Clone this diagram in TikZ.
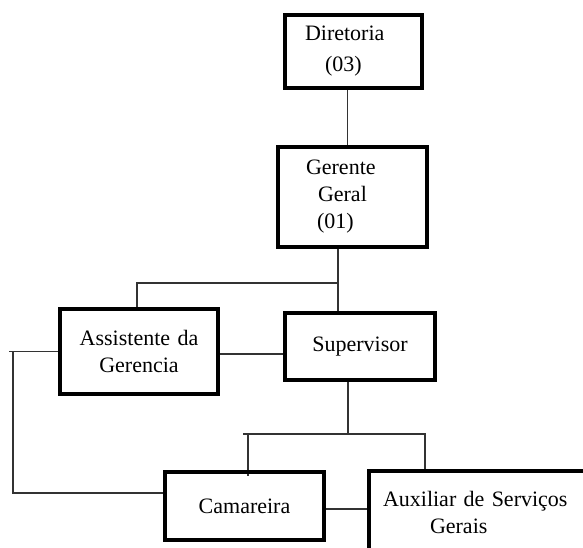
\documentclass[tikz,border=0pt]{standalone}
\usepackage{fontspec}
\setmainfont{Liberation Serif}
\usetikzlibrary{backgrounds}

\begin{document}
\begin{tikzpicture}[x=1pt, y=-1pt,
  every node/.style = {draw, rectangle, line width=4pt, inner xsep=0pt, inner ysep=0pt, align=center, font=\fontsize{22}{27}\selectfont},
  linha/.style = {line width=1.5pt, black!80}]

  \useasboundingbox (0,0) rectangle (583,548);
  \clip (0,0) rectangle (583,548);

  \node[text width=97pt, inner xsep=20pt, minimum height=73pt, align=left] (d) at (353.5,51.5) {Diretoria\\[4pt]\hspace*{20pt}(03)};
  \node[text width=93pt, inner xsep=28pt, minimum height=100pt, align=left] (g) at (352.5,197) {Gerente\\\hspace*{12pt}Geral\\\hspace*{11pt}(01)};
  \node[text width=158pt, minimum height=85pt] (a) at (139,351.5) {Assistente da\\Gerencia};
  \node[text width=150pt, minimum height=67pt] (s) at (360,346.5) {Supervisor};
  \node[text width=159pt, minimum height=68pt] (c) at (244.5,506) {Camareira};
  \node[text width=212pt, inner xsep=14pt, minimum height=82pt, align=left] (x) at (489,512) {Auxiliar de Serviços\\\hspace*{47pt}Gerais};

  \coordinate (j) at (338,283);
  \coordinate (h) at (250,354);
  \coordinate (l) at (13,351.5);
  \coordinate (q) at (13,493);
  \coordinate (m) at (348,434);
  \coordinate (n) at (248,434);
  \coordinate (o) at (425,434);
  \coordinate (r) at (350,509);

  \begin{scope}[on background layer]
  \draw[linha] ([xshift=-6pt]d.south) -- ([xshift=-5pt]g.north);
  \draw[linha] (g.south -| j) -- (j) -- (s.north -| j) (j) -| ([xshift=-2pt]a.north);
  \draw[linha] (a.east |- h) -- (s.west |- h);
  \draw[linha] ([xshift=-4pt]l) -- (a.west) (l) -- (q) -- (c.west |- q);
  \draw[linha] (s.south -| m) -- (m) ([xshift=-5pt]n) -- (o) -- (x.north -| o);
  \draw[linha] (n) -- (c.north -| n) -- ++(0,6);
  \draw[linha] (c.east |- r) -- (x.west |- r);
  %\draw[linha] (d) -- (g);
  \end{scope}
\end{tikzpicture}
\end{document}
